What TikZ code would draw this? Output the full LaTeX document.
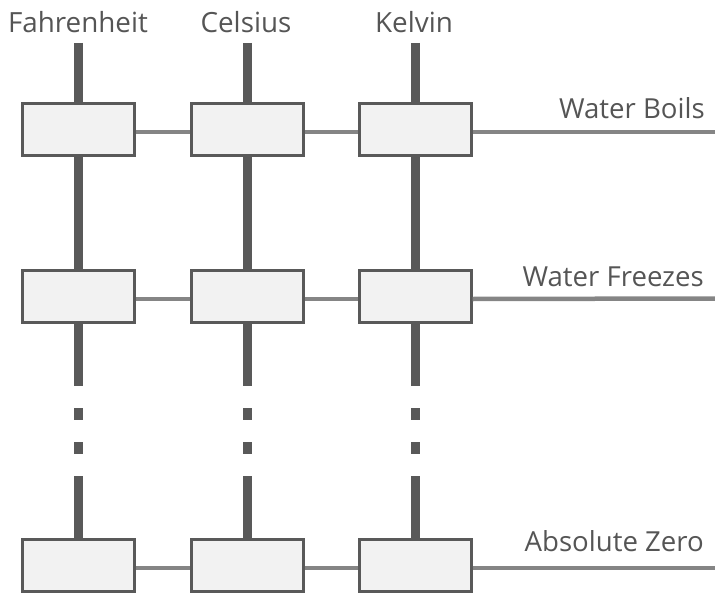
\documentclass[tikz,border=0pt]{standalone}
\usepackage{fontspec}
\setmainfont{Open Sans}
\definecolor{darkline}{HTML}{595959}
\definecolor{thinline}{HTML}{858585}
\definecolor{boxfill}{HTML}{F2F2F2}
\definecolor{labeltext}{HTML}{555555}
\begin{document}
\begin{tikzpicture}[x=1pt,y=-1pt,
  scalebox/.style={draw=darkline, line width=3pt, fill=boxfill,
    minimum width=112pt, minimum height=52pt, inner sep=0pt},
  scaleline/.style={draw=darkline, line width=9pt},
  rowline/.style={draw=thinline, line width=4.5pt},
  heading/.style={font=\fontsize{27.8}{32}\selectfont, text=labeltext, anchor=base, inner sep=0pt},
  rowlabel/.style={font=\fontsize{27.6}{32}\selectfont, text=labeltext, anchor=base east, inner sep=0pt}]
\useasboundingbox (0,0) rectangle (715,594);

% column headings and the tops of the scale lines
\node[heading] (hf) at (78,33) {Fahrenheit};
\node[heading] (hc) at (246,33) {Celsius};
\node[heading] (hk) at (414,33) {Kelvin};
\coordinate (tf) at (78.5,43);
\coordinate (tc) at (247,43);
\coordinate (tk) at (415,43);

% right-hand ends of the rows
\coordinate (e1) at (715,132);
\coordinate (e2) at (715,298.5);
\coordinate (e3) at (715,568);

% one box per scale and row
\foreach \c/\x in {f/78.5,c/247,k/415}{
  \path (\x,129.5) node[scalebox] (\c1) {}
        (\x,296.5) node[scalebox] (\c2) {}
        (\x,565.5) node[scalebox] (\c3) {};
}

% vertical scale lines between the boxes, broken before the lowest row
\foreach \c in {f,c,k}{
  \draw[scaleline] (t\c) -- (\c1.north);
  \draw[scaleline] (\c1.south) -- (\c2.north);
  \draw[scaleline, dash pattern=on 62pt off 22pt on 12pt off 22pt on 12pt off 22pt on 80pt]
    (\c2.south) -- (\c3.north);
}

% horizontal row lines through the boxes
\foreach \r in {1,2,3}{
  \draw[rowline] ([yshift=-2.5pt]f\r.east) -- ([yshift=-2.5pt]c\r.west);
  \draw[rowline] ([yshift=-2.5pt]c\r.east) -- ([yshift=-2.5pt]k\r.west);
  \draw[rowline] ([yshift=-2.5pt]k\r.east) -- (e\r);
}

% row labels
\node[rowlabel] (l1) at (705,118) {Water Boils};
\node[rowlabel] (l2) at (704,286) {Water Freezes};
\node[rowlabel] (l3) at (704,551) {Absolute Zero};
\end{tikzpicture}
\end{document}
